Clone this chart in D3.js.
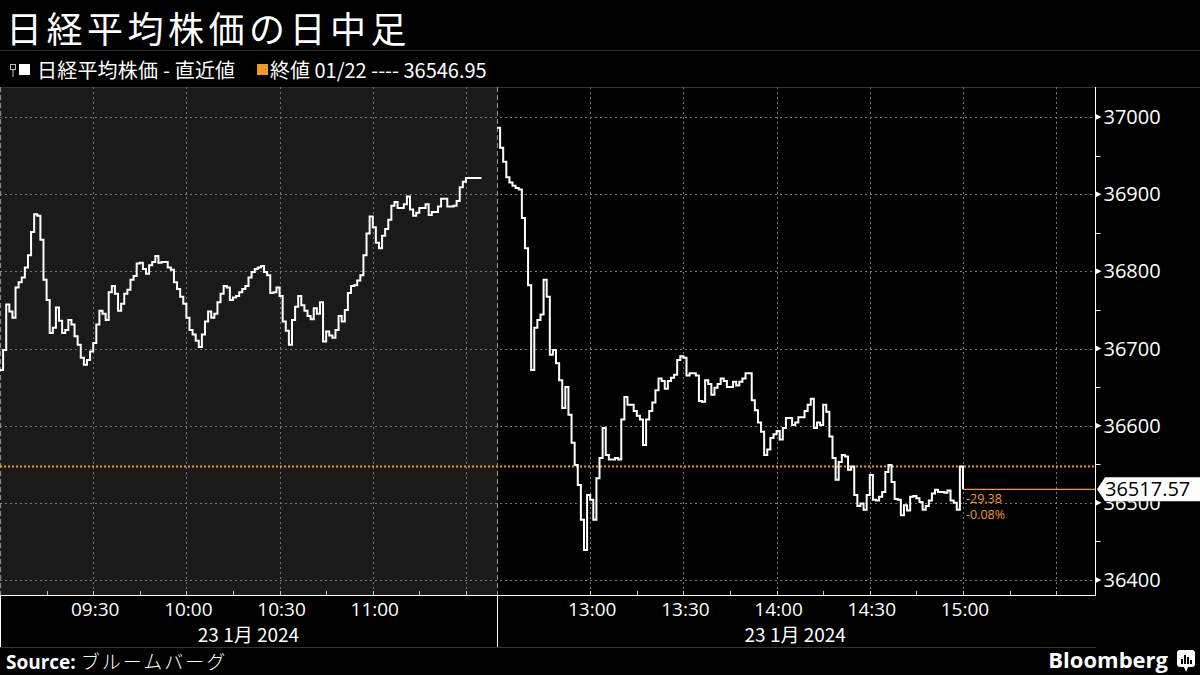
<!DOCTYPE html>
<html>
<head>
<meta charset="utf-8">
<script src="https://cdn.jsdelivr.net/npm/d3@7"></script>
<style>
  html, body { margin: 0; padding: 0; background: #000; }
  svg { display: block; }
  text { font-family: "Open Sans", "Noto Sans CJK JP", sans-serif; }
  .cjk { font-family: "Noto Sans CJK JP", "Open Sans", sans-serif; }
</style>
</head>
<body>
<svg id="chart" width="1200" height="675"></svg>
<script>
// ---------------- data ----------------
const title = "日経平均株価の日中足";
const seriesName = "日経平均株価 - 直近値";
const refLabel = "終値 01/22 ---- 36546.95";
const refValue = 36546.95;
const lastValue = 36517.57;
const changeLabels = ["-29.38", "-0.08%"];
const dateLabel = "23 1月 2024";
const sourceLabel = "ブルームバーグ";

// morning session, 1-minute values from 09:00
const amStart = "09:00";
const amValues = [
  36672,36698,36757,36748,36740,36779,36786,36792,36805,36821,
  36851,36874,36872,36841,36789,36763,36720,36727,36753,36736,
  36720,36724,36737,36731,36716,36705,36688,36679,36685,36696,
  36707,36731,36749,36745,36737,36773,36781,36771,36749,36758,
  36771,36776,36789,36794,36810,36811,36803,36797,36808,36812,
  36820,36811,36812,36812,36805,36802,36786,36777,36767,36758,
  36740,36724,36718,36710,36702,36718,36735,36748,36740,36745,
  36760,36771,36781,36779,36763,36766,36768,36773,36777,36781,
  36792,36799,36803,36805,36807,36799,36795,36772,36773,36779,
  36768,36735,36723,36705,36737,36754,36768,36756,36749,36742,
  36738,36752,36745,36760,36709,36722,36717,36714,36724,36742,
  36735,36750,36772,36781,36782,36788,36795,36821,36849,36871,
  36857,36837,36830,36846,36855,36867,36885,36890,36882,36882,
  36887,36897,36880,36872,36876,36882,36882,36887,36873,36877,
  36877,36884,36894,36894,36884,36884,36885,36891,36909,36916,
  36921,36921,36921,36921,36921,36921
];
// afternoon session, 1-minute values from 12:30
const pmStart = "12:30";
const pmValues = [
  36986,36960,36942,36922,36915,36911,36908,36906,36869,36830,
  36782,36672,36727,36737,36744,36789,36767,36692,36698,36681,
  36659,36623,36650,36614,36578,36549,36523,36478,36439,36510,
  36504,36478,36532,36558,36597,36562,36556,36556,36558,36556,
  36608,36637,36627,36627,36619,36613,36608,36575,36608,36619,
  36630,36646,36661,36658,36648,36658,36662,36666,36685,36690,
  36688,36665,36668,36668,36665,36632,36631,36659,36654,36640,
  36649,36654,36661,36658,36650,36650,36657,36652,36657,36661,
  36668,36668,36633,36620,36604,36592,36562,36569,36584,36589,
  36593,36582,36597,36610,36610,36601,36604,36611,36611,36619,
  36627,36635,36597,36604,36601,36627,36618,36586,36558,36530,
  36553,36562,36560,36543,36547,36510,36496,36499,36491,36510,
  36536,36504,36503,36508,36514,36540,36549,36527,36505,36504,
  36484,36497,36490,36508,36509,36506,36501,36491,36496,36503,
  36512,36517,36514,36514,36513,36516,36503,36500,36491,36547,
  36517.57
];
const yTicks = [36400, 36500, 36600, 36700, 36800, 36900, 37000];
const yMinorTicks = [36450, 36550, 36650, 36750, 36850, 36950];
const xLabelTimes = ["09:30","10:00","10:30","11:00","13:00","13:30","14:00","14:30","15:00"];
const xGridTimes = ["09:30","10:00","10:30","11:00","11:30","13:00","13:30","14:00","14:30","15:00","15:30"];
const xMinorTimes = ["09:15","09:45","10:15","10:45","11:15","13:15","13:45","14:15","14:45","15:15"];

// ---------------- helpers ----------------
const toMin = s => { const [h, m] = s.split(":").map(Number); return h * 60 + m; };
const amData = amValues.map((v, i) => ({ t: toMin(amStart) + i, v }));
const pmData = pmValues.map((v, i) => ({ t: toMin(pmStart) + i, v }));

// ---------------- layout ----------------
const svg = d3.select("#chart");
const plotTop = 87, plotBottom = 595, plotLeft = 0, plotRight = 1095, breakX = 497;

const x = d3.scaleLinear()
  .domain([toMin("09:00"), toMin("11:40"), toMin("12:30"), toMin("15:42") + 0.5])
  .range([plotLeft, breakX, breakX, plotRight]);
const y = d3.scaleLinear().domain([36400, 37000]).range([580, 117]);

const ORANGE = "#f39a1f";

// background
svg.append("rect").attr("x", 0).attr("y", 0).attr("width", 1200).attr("height", 675).attr("fill", "#000");
svg.append("rect").attr("x", plotLeft).attr("y", plotTop).attr("width", breakX - plotLeft)
  .attr("height", plotBottom - plotTop).attr("fill", "#1a1a1a");

// title
svg.append("text").attr("class", "cjk").attr("x", 6).attr("y", 43)
  .attr("fill", "#fff").attr("font-size", 36).attr("letter-spacing", 4.5).text(title);
svg.append("line").attr("x1", 0).attr("x2", 1200).attr("y1", 50.5).attr("y2", 50.5)
  .attr("stroke", "#2e2e2e").attr("stroke-width", 1);

// legend
const lg = svg.append("g");
lg.append("rect").attr("x", 10.5).attr("y", 64.5).attr("width", 5).attr("height", 5)
  .attr("fill", "none").attr("stroke", "#bbb").attr("stroke-width", 1);
lg.append("line").attr("x1", 13).attr("x2", 13).attr("y1", 70).attr("y2", 77).attr("stroke", "#bbb");
lg.append("rect").attr("x", 19).attr("y", 64).attr("width", 11).attr("height", 11).attr("fill", "#fff");
lg.append("text").attr("class", "cjk").attr("x", 37).attr("y", 78).attr("fill", "#fff")
  .attr("font-size", 20).attr("letter-spacing", 0.2).text(seriesName);
lg.append("rect").attr("x", 257).attr("y", 64).attr("width", 11).attr("height", 11).attr("fill", ORANGE);
lg.append("text").attr("class", "cjk").attr("x", 270).attr("y", 78).attr("fill", "#fff")
  .attr("font-size", 20).text(refLabel);
svg.append("line").attr("x1", 0).attr("x2", 1200).attr("y1", plotTop + 0.5).attr("y2", plotTop + 0.5)
  .attr("stroke", "#333").attr("stroke-width", 1);

// grid
const grid = svg.append("g");
yTicks.forEach(t => {
  grid.append("line").attr("x1", plotLeft).attr("x2", plotRight - 2)
    .attr("y1", Math.round(y(t)) + 0.5).attr("y2", Math.round(y(t)) + 0.5)
    .attr("stroke", "#777").attr("stroke-width", 1).attr("stroke-dasharray", "2,3");
});
xGridTimes.forEach(s => {
  const xx = Math.round(x(toMin(s))) + 0.5;
  grid.append("line").attr("x1", xx).attr("x2", xx).attr("y1", plotTop).attr("y2", plotBottom)
    .attr("stroke", "#777").attr("stroke-width", 1).attr("stroke-dasharray", "2,3");
});
// session boundaries
[plotLeft + 0.5, breakX + 0.5].forEach(xx => {
  grid.append("line").attr("x1", xx).attr("x2", xx).attr("y1", plotTop).attr("y2", plotBottom)
    .attr("stroke", "#8a8a8a").attr("stroke-width", 1.2).attr("stroke-dasharray", "5,3");
});

// reference line (previous close)
svg.append("line").attr("x1", plotLeft).attr("x2", plotRight)
  .attr("y1", y(refValue)).attr("y2", y(refValue))
  .attr("stroke", ORANGE).attr("stroke-width", 2).attr("stroke-dasharray", "2,2");

// series lines
const line = d3.line().x(d => x(d.t)).y(d => y(d.v)).curve(d3.curveStepAfter);
[amData, pmData].forEach(data => {
  svg.append("path").datum(data).attr("d", line).attr("fill", "none")
    .attr("stroke", "#fff").attr("stroke-width", 2).attr("stroke-linejoin", "miter");
});

// last value line + change labels
const lastPt = pmData[pmData.length - 1];
svg.append("line").attr("x1", x(lastPt.t)).attr("x2", plotRight)
  .attr("y1", y(lastValue)).attr("y2", y(lastValue)).attr("stroke", ORANGE).attr("stroke-width", 1.2);
changeLabels.forEach((s, i) => {
  svg.append("text").attr("x", x(lastPt.t) + 3).attr("y", y(lastValue) + 14 + i * 16)
    .attr("fill", ORANGE).attr("font-size", 12.5).text(s);
});

// right axis
const axR = svg.append("g").attr("transform", `translate(${plotRight + 0.5},0)`);
axR.append("line").attr("x1", 0).attr("x2", 0).attr("y1", plotTop).attr("y2", plotBottom).attr("stroke", "#fff");
yMinorTicks.forEach(t => {
  axR.append("line").attr("x1", 0).attr("x2", 5).attr("y1", Math.round(y(t)) + 0.5).attr("y2", Math.round(y(t)) + 0.5)
    .attr("stroke", "#fff");
});
yTicks.forEach(t => {
  const yy = y(t);
  axR.append("path").attr("d", `M0,${yy - 3}L6,${yy}L0,${yy + 3}Z`).attr("fill", "#fff");
  if (t === 36500) return; // hidden behind the last-value tag
  axR.append("text").attr("x", 8).attr("y", yy).attr("dy", "0.35em").attr("fill", "#fff")
    .attr("font-size", 20).text(d3.format("d")(t));
});
// 36500 label, mostly covered by the last-value tag (clipped to its visible lower part)
svg.append("clipPath").attr("id", "under-tag").append("rect")
  .attr("x", plotRight).attr("y", y(lastValue) + 12).attr("width", 110).attr("height", 30);
svg.append("text").attr("clip-path", "url(#under-tag)").attr("x", plotRight + 8.5).attr("y", y(36500))
  .attr("dy", "0.35em").attr("fill", "#fff").attr("font-size", 20).text(d3.format("d")(36500));
// last value tag
const ly = y(lastValue);
const tag = svg.append("g");
tag.append("path").attr("d", `M${plotRight + 2},${ly} L${plotRight + 10},${ly - 12} H1200 V${ly + 12} H${plotRight + 10} Z`)
  .attr("fill", "#fff");
tag.append("text").attr("x", plotRight + 10).attr("y", ly).attr("dy", "0.36em").attr("fill", "#000")
  .attr("font-size", 20).text(d3.format(".2f")(lastValue));

// bottom axis
const axB = svg.append("g");
axB.append("line").attr("x1", plotLeft).attr("x2", plotRight + 1).attr("y1", plotBottom + 0.5).attr("y2", plotBottom + 0.5)
  .attr("stroke", "#fff");
[plotLeft + 0.5, breakX + 0.5].forEach(xx => {
  axB.append("line").attr("x1", xx).attr("x2", xx).attr("y1", plotBottom).attr("y2", 647).attr("stroke", "#fff");
});
xGridTimes.concat(xMinorTimes).forEach(s => {
  const xx = Math.round(x(toMin(s))) + 0.5;
  axB.append("line").attr("x1", xx).attr("x2", xx).attr("y1", plotBottom - 4).attr("y2", plotBottom)
    .attr("stroke", "#ccc");
});
xLabelTimes.forEach(s => {
  axB.append("text").attr("x", x(toMin(s)) + 2).attr("y", 616).attr("text-anchor", "middle")
    .attr("fill", "#fff").attr("font-size", 19).text(s);
});
[[toMin("09:00"), toMin("11:40")], [toMin("12:30"), toMin("15:42")]].forEach(([a, b]) => {
  axB.append("text").attr("class", "cjk").attr("x", (x(a) + x(b)) / 2).attr("y", 642).attr("text-anchor", "middle")
    .attr("fill", "#fff").attr("font-size", 19).text(dateLabel);
});
svg.append("line").attr("x1", 0).attr("x2", plotRight + 1).attr("y1", 647.5).attr("y2", 647.5)
  .attr("stroke", "#333");

// footer
const ft = svg.append("text").attr("x", 6).attr("y", 669).attr("fill", "#fff").attr("font-size", 19);
ft.append("tspan").attr("font-weight", "bold").text("Source: ");
ft.append("tspan").attr("class", "cjk").attr("font-family", "Noto Sans CJK JP").attr("font-weight", 300)
  .attr("font-size", 19).attr("letter-spacing", 2).text(sourceLabel);

svg.append("text").attr("x", 1168).attr("y", 668).attr("text-anchor", "end").attr("fill", "#fff")
  .attr("font-size", 22).attr("font-weight", "bold").attr("letter-spacing", 0).text("Bloomberg");
const logo = svg.append("g").attr("transform", "translate(1177,650)");
logo.append("rect").attr("width", 18).attr("height", 17).attr("rx", 3).attr("fill", "#fff");
logo.append("path").attr("d", "M7,17 L9,22 L11,17 Z").attr("fill", "#fff");
[[4, 9, 2, 5], [7, 5, 2, 9], [10, 7, 2, 7], [13, 10, 2, 4]].forEach(([bx, by, bw, bh]) => {
  logo.append("rect").attr("x", bx).attr("y", by).attr("width", bw).attr("height", bh).attr("fill", "#000");
});
</script>
</body>
</html>
